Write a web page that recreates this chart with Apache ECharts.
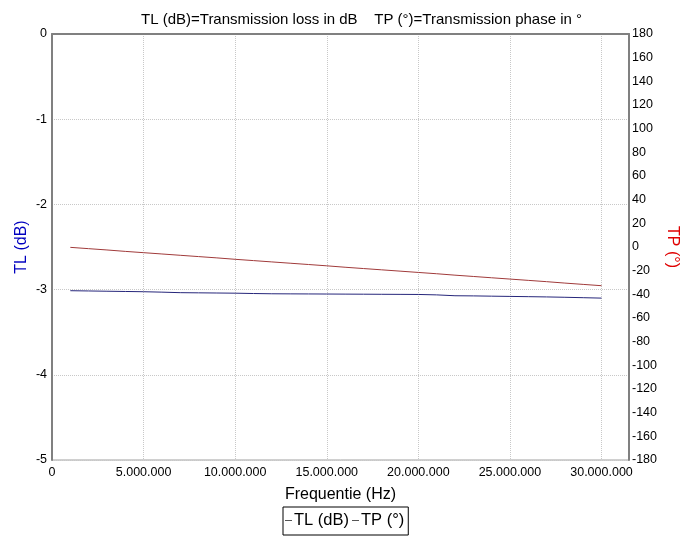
<!DOCTYPE html>
<html>
<head>
<meta charset="utf-8">
<script src="https://cdn.jsdelivr.net/npm/echarts@6/dist/echarts.min.js"></script>
<style>
	html, body { margin: 0; padding: 0; background: #fff; }
	#chart { width: 685px; height: 544px; }
</style>
</head>
<body>
<div id="chart"></div>
<script>
// frequentie (Hz)
var freq = [1e6, 2e6, 3e6, 4e6, 5e6, 6e6, 7e6, 8e6, 9e6, 10e6,
	11e6, 12e6, 13e6, 14e6, 15e6, 16e6, 17e6, 18e6, 19e6, 20e6,
	21e6, 22e6, 23e6, 24e6, 25e6, 26e6, 27e6, 28e6, 29e6, 30e6];
// TL (dB)
var tl = [-3.013, -3.016, -3.019, -3.022, -3.025, -3.030, -3.036, -3.038, -3.040, -3.042,
	-3.046, -3.049, -3.050, -3.051, -3.052, -3.053, -3.054, -3.055, -3.056, -3.057,
	-3.062, -3.072, -3.074, -3.077, -3.080, -3.083, -3.086, -3.090, -3.095, -3.100];
// TP (°)
var tp = [-0.3, -1.4, -2.5, -3.7, -4.8, -5.9, -7.0, -8.1, -9.2, -10.4,
	-11.5, -12.6, -13.7, -14.8, -15.9, -17.1, -18.2, -19.3, -20.4, -21.5,
	-22.6, -23.8, -24.9, -26.0, -27.1, -28.2, -29.3, -30.5, -31.6, -32.7];

var font = 'Liberation Sans, Arial, sans-serif';

function pairs(ys) {
	return freq.map(function(f, i) { return [f, ys[i]]; });
}
function dots(v) {
	return String(v).replace(/\B(?=(\d{3})+(?!\d))/g, '.');
}

var chart = echarts.init(document.getElementById('chart'));
chart.setOption({
	animation: false,
	textStyle: { fontFamily: font },
	title: {
		text: 'TL (dB)=Transmission loss in dB    TP (°)=Transmission phase in °',
		left: 136,
		top: 7,
		textStyle: { fontSize: 15, fontWeight: 'normal', color: '#000', fontFamily: font }
	},
	grid: {
		left: 52,
		right: 56,
		top: 34,
		bottom: 84,
		outerBoundsMode: 'none',
		containLabel: false,
		show: true,
		borderColor: '#a0a0a0',
		borderWidth: 1
	},
	legend: {
		left: 283,
		top: 507,
		padding: [5, 4, 6, 2],
		borderColor: '#000',
		borderWidth: 1,
		itemGap: 3,
		itemWidth: 7,
		itemHeight: 1,
		icon: 'rect',
		textStyle: { fontSize: 16.5, color: '#000', fontFamily: font, padding: [0, 0, 0, -3] },
		data: [
			{ name: 'TL (dB)', itemStyle: { color: '#555' } },
			{ name: 'TP (°)', itemStyle: { color: '#555' } }
		]
	},
	xAxis: {
		type: 'value',
		min: 0,
		max: 31500000,
		interval: 5000000,
		name: 'Frequentie (Hz)',
		nameLocation: 'middle',
		nameGap: 27,
		nameTextStyle: { fontSize: 16, color: '#000' },
		axisLine: { lineStyle: { color: '#808080', width: 2 } },
		axisTick: { show: false },
		axisLabel: { color: '#000', fontSize: 12.5, margin: 6, formatter: dots, showMaxLabel: false },
		splitLine: { show: true, lineStyle: { color: '#c8c8c8', type: 'dotted' } }
	},
	yAxis: [{
		type: 'value',
		min: -5,
		max: 0,
		interval: 1,
		name: 'TL (dB)',
		nameLocation: 'middle',
		nameRotate: 90,
		nameGap: 22,
		nameMoveOverlap: false,
		nameTextStyle: { fontSize: 16, color: '#0000c0' },
		axisLine: { show: true, lineStyle: { color: '#808080', width: 2 } },
		axisTick: { show: false },
		axisLabel: { color: '#000', fontSize: 12.5, margin: 5 },
		splitLine: { show: true, lineStyle: { color: '#c8c8c8', type: 'dotted' } }
	}, {
		type: 'value',
		min: -180,
		max: 180,
		interval: 20,
		position: 'right',
		name: 'TP (°)',
		nameLocation: 'middle',
		nameRotate: -90,
		nameGap: 35,
		nameMoveOverlap: false,
		nameTextStyle: { fontSize: 16, color: '#e00000' },
		axisLine: { show: true, lineStyle: { color: '#808080', width: 2 } },
		axisTick: { show: false },
		axisLabel: { color: '#000', fontSize: 12.5, margin: 3 },
		splitLine: { show: false }
	}],
	series: [{
		name: 'TL (dB)',
		type: 'line',
		yAxisIndex: 0,
		showSymbol: false,
		lineStyle: { color: '#25257a', width: 1 },
		itemStyle: { color: '#25257a' },
		data: pairs(tl)
	}, {
		name: 'TP (°)',
		type: 'line',
		yAxisIndex: 1,
		showSymbol: false,
		lineStyle: { color: '#a03a3a', width: 1 },
		itemStyle: { color: '#a03a3a' },
		data: pairs(tp)
	}]
});
</script>
</body>
</html>
